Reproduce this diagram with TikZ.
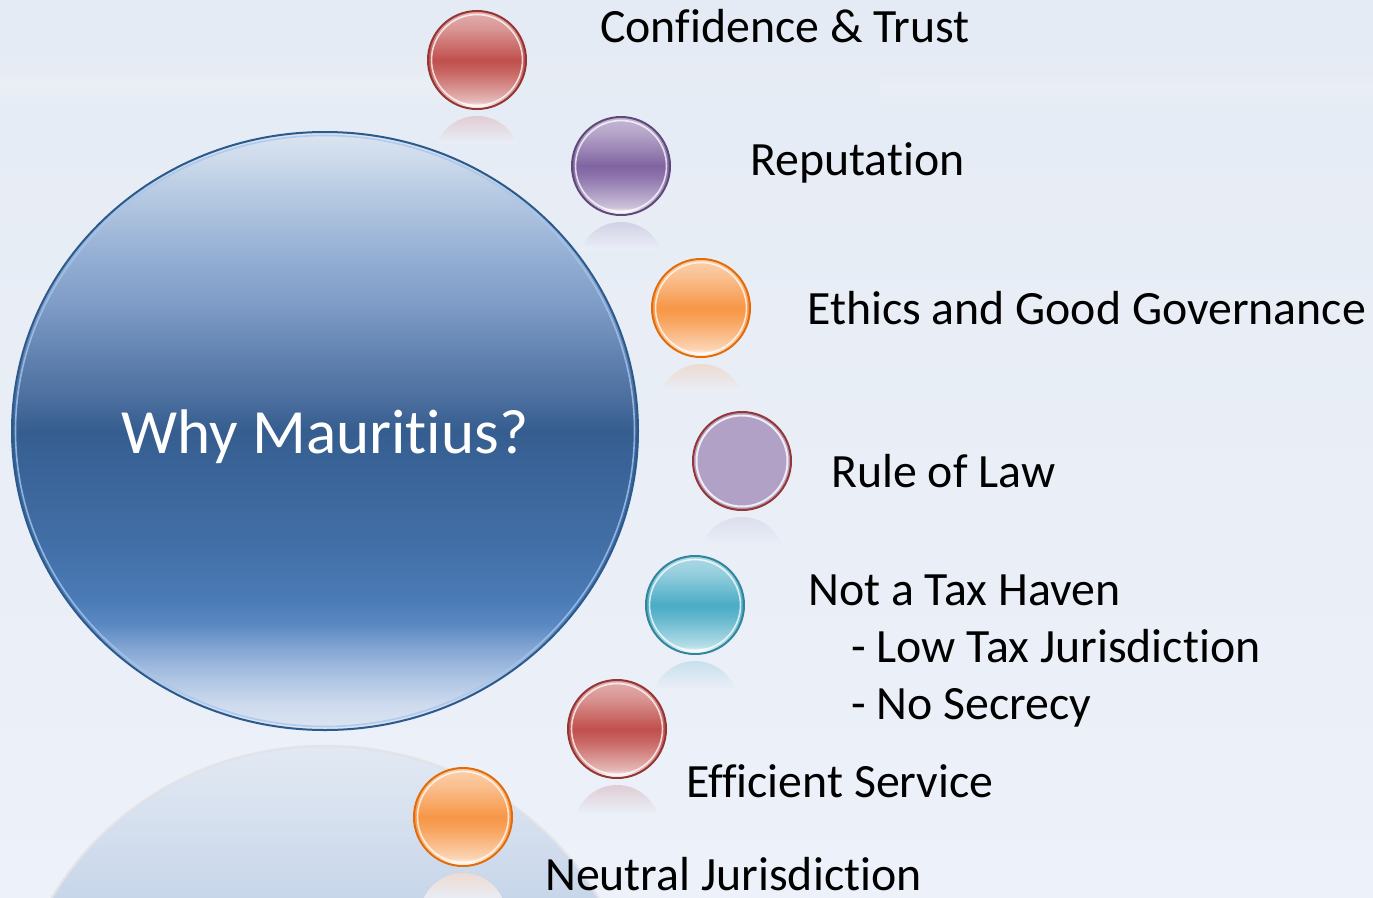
\documentclass[tikz,border=0pt]{standalone}
\usepackage{fontspec}
\setmainfont{Carlito}[Ligatures=NoCommon]
\usetikzlibrary{shapes.geometric}
\definecolor{bgtop}{HTML}{E5EBF4}
\definecolor{bgbot}{HTML}{EDF1F9}
\definecolor{bgmid}{HTML}{E9EEF7}
\definecolor{redb}{HTML}{C0504D}
\definecolor{redline}{HTML}{943634}
\definecolor{purb}{HTML}{8064A2}
\definecolor{purline}{HTML}{5F497A}
\definecolor{orab}{HTML}{F79646}
\definecolor{oraline}{HTML}{E36C09}
\definecolor{teab}{HTML}{4BACC6}
\definecolor{tealine}{HTML}{31859C}
\definecolor{lavb}{HTML}{B2A1C7}
\definecolor{lavline}{HTML}{953735}
\definecolor{bigline}{HTML}{2C5A8C}
\definecolor{bighl}{HTML}{A6C6EE}
\definecolor{reftop}{HTML}{E2E9F3}
\definecolor{refbot}{HTML}{C8D6EA}
\definecolor{s25}{HTML}{DCE5F1}
\definecolor{s27}{HTML}{CEDBEE}
\definecolor{s29}{HTML}{B0C6E4}
\definecolor{s31}{HTML}{86A7D4}
\definecolor{s33}{HTML}{5A89C2}
\definecolor{s35}{HTML}{4B7BB6}
\definecolor{s40}{HTML}{4370A8}
\definecolor{s46}{HTML}{3A6499}
\definecolor{s50}{HTML}{355D8F}
\definecolor{s52}{HTML}{4A6E9E}
\definecolor{s56}{HTML}{6585B3}
\definecolor{s61}{HTML}{819EC8}
\definecolor{s65}{HTML}{97B1D5}
\definecolor{s69}{HTML}{B3C7E1}
\definecolor{s72}{HTML}{CCDAEB}
\definecolor{s75}{HTML}{DCE5F0}
\pgfdeclareverticalshading{bigball}{100bp}{%
color(0bp)=(s25); color(25bp)=(s25); color(27.1bp)=(s27); color(29.2bp)=(s29);
color(31.7bp)=(s31); color(33.8bp)=(s33); color(35.9bp)=(s35); color(40bp)=(s40);
color(46.7bp)=(s46); color(50bp)=(s50); color(52.6bp)=(s52); color(56.8bp)=(s56);
color(61bp)=(s61); color(65.1bp)=(s65); color(69.3bp)=(s69); color(72.7bp)=(s72);
color(75bp)=(s75); color(100bp)=(s75)}
\newcommand\mkballshade[2]{%
\pgfdeclareverticalshading{#1}{100bp}{%
color(0bp)=(white); color(25bp)=(white); color(26.5bp)=(white!92!#2);
color(29bp)=(#2!40!white); color(35bp)=(#2!60!white); color(44bp)=(#2!88!white);
color(50bp)=(#2); color(56bp)=(#2!85!white); color(66bp)=(#2!60!white);
color(75bp)=(#2!45!white); color(100bp)=(#2!45!white)}}
\mkballshade{redshade}{redb}
\mkballshade{purshade}{purb}
\mkballshade{orashade}{orab}
\mkballshade{teashade}{teab}
\tikzset{
  ball/.style 2 args={circle, minimum size=98pt, inner sep=0pt, line width=2pt,
    draw=#2, shading=#1,
    path picture={\draw[white, opacity=.75, line width=1.6pt]
      (path picture bounding box.center) circle (45.5pt);}},
  flatball/.style 2 args={circle, minimum size=98pt, inner sep=0pt, line width=2pt,
    draw=#2, fill=#1,
    path picture={\draw[white, opacity=.8, line width=2pt]
      (path picture bounding box.center) circle (45.5pt);}},
  txt/.style={anchor=base west, inner sep=0pt, text=black,
    font=\fontsize{47.8}{57}\selectfont},
}
\newcommand\ballrefl[3]{% center x, bottom y, color
  \begin{scope}
    \clip (#1,#2+50) circle (43pt);
    \shade[top color=#3!22!bgmid, bottom color=bgmid] (#1-45,#2+6) rectangle (#1+45,#2+34);
  \end{scope}}
\begin{document}
\begin{tikzpicture}[x=1pt,y=-1pt]
\useasboundingbox (0,0) rectangle (1373,897);
\begin{scope}
\clip (0,0) rectangle (1373,897);
% background
\shade[top color=bgtop, bottom color=bgbot] (0,0) rectangle (1373,897);
\shade[top color=bgtop, bottom color=bgtop, middle color=white!60!bgtop, opacity=.3] (0,60) rectangle (460,110);
\shade[top color=bgtop, bottom color=bgtop, middle color=white!60!bgtop, opacity=.25] (880,68) rectangle (1373,112);
% reflection of the big circle
\begin{scope}
  \clip (325,1046) ellipse [x radius=313, y radius=299];
  \shade[top color=reftop, bottom color=refbot] (0,747) rectangle (650,897);
\end{scope}
\draw[black!15, line width=2.5pt, opacity=.5] (325,1046) ellipse [x radius=314, y radius=300];
% big circle
\node[ellipse, minimum width=626pt, minimum height=598pt, inner sep=0pt,
  shading=bigball, draw=bigline, line width=2pt, text=white,
  font=\fontsize{63}{70}\selectfont, text height=44pt, text depth=0pt,
  path picture={\draw[bighl, opacity=.8, line width=1.6pt]
    (path picture bounding box.center) ellipse [x radius=309.5pt, y radius=295.5pt];}]
  (why) at (325,431) {Why Mauritius?};
% reflections of the balls
\ballrefl{477}{109}{redb}
\ballrefl{621}{215}{purb}
\ballrefl{701}{357}{orab}
\ballrefl{742}{510}{lavb}
\ballrefl{695}{654}{teab}
\ballrefl{617}{778}{redb}
\ballrefl{463}{866}{orab}
% balls
\node[ball={redshade}{redline}] (b1) at (477,60) {};
\node[ball={purshade}{purline}] (b2) at (621,166) {};
\node[ball={orashade}{oraline}] (b3) at (701,308) {};
\node[flatball={lavb}{lavline}] (b4) at (742,461) {};
\node[ball={teashade}{tealine}] (b5) at (695,605) {};
\node[ball={redshade}{redline}] (b6) at (617,729) {};
\node[ball={orashade}{oraline}] (b7) at (463,817) {};
% texts
\node[txt] (t1) at (600,42) {Confidence \& Trust};
\node[txt] (t2) at (750,175) {Reputation};
\node[txt] (t3) at (807,324) {Ethics and Good Governance};
\node[txt] (t4) at (831,487) {Rule of Law};
\node[txt] (t5) at (808,605) {Not a Tax Haven};
\node[txt] (t5a) at (851,662) {- Low Tax Jurisdiction};
\node[txt] (t5b) at (851,719) {- No Secrecy};
\node[txt] (t6) at (686,797) {Efficient Service};
\node[txt] (t7) at (545,890) {Neutral Jurisdiction};
\end{scope}
\end{tikzpicture}
\end{document}
